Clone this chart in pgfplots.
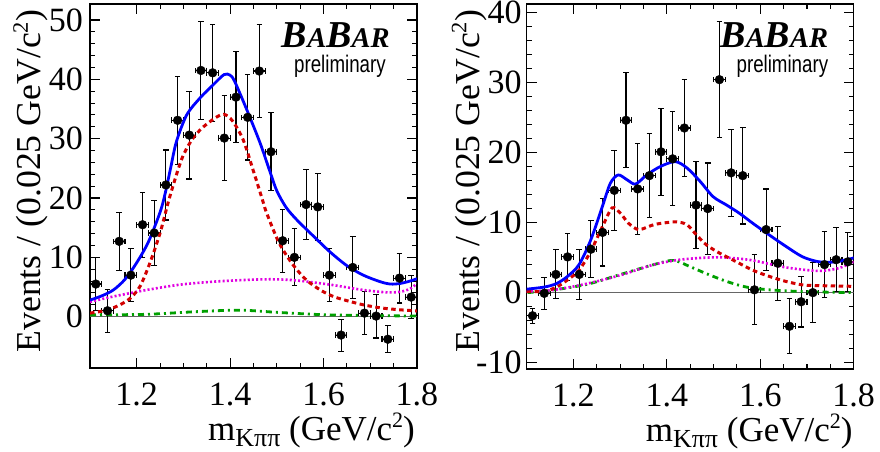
\documentclass[border=0pt]{standalone}
\usepackage{fontspec}
\setmainfont{Liberation Serif}
\newfontfamily\helv{Liberation Sans}
\usepackage{pgfplots}
\usepackage{pgfplotstable}
\pgfplotsset{compat=1.18}

\definecolor{cblue}{RGB}{0,0,255}
\definecolor{cred}{RGB}{210,0,0}
\definecolor{cmag}{RGB}{225,0,225}
\definecolor{cgreen}{RGB}{0,160,0}

\pgfplotstableread{
x y ey
1.1125 5.5 4.4
1.1375 1.0 3.6
1.1625 12.7 4.9
1.1875 7.0 4.5
1.2125 15.5 5.5
1.2375 14.1 5.5
1.2625 22.2 5.9
1.2875 33.1 7.4
1.3125 30.6 7.4
1.3375 41.5 8.3
1.3625 41.1 8.2
1.3875 30.1 7.2
1.4125 37.0 7.7
1.4375 33.6 7.2
1.4625 41.4 7.9
1.4875 27.8 6.6
1.5125 12.8 5.3
1.5375 10.0 4.8
1.5625 18.9 5.9
1.5875 18.5 5.7
1.6125 7.0 4.5
1.6375 -3.1 2.7
1.6625 8.3 5.2
1.6875 0.6 3.6
1.7125 0.1 3.7
1.7375 -3.8 2.3
1.7625 6.5 4.2
1.7875 3.3 3.6
}\leftdata

\pgfplotstableread{
x y ey
1.1125 -3.3 1.1
1.1375 -0.1 2.3
1.1625 2.6 3.5
1.1875 5.1 3.4
1.2125 2.6 3.6
1.2375 6.2 4.1
1.2625 8.6 4.8
1.2875 14.6 5.7
1.3125 24.6 6.8
1.3375 14.8 6.5
1.3625 16.7 6.0
1.3875 20.1 6.2
1.4125 19.1 6.7
1.4375 23.5 6.9
1.4625 12.5 6.2
1.4875 12.0 6.5
1.5125 30.4 8.3
1.5375 17.1 6.2
1.5625 16.7 6.9
1.5875 0.4 5.0
1.6125 9.0 5.8
1.6375 4.2 5.3
1.6625 -4.8 3.9
1.6875 -1.3 3.6
1.7125 0.0 4.3
1.7375 4.0 4.7
1.7625 4.7 4.6
1.7875 4.4 4.2
}\rightdata

\newcommand{\babar}{{\bfseries\itshape\fontsize{38}{38}\selectfont B\fontsize{28.5}{28.5}\selectfont A\fontsize{38}{38}\selectfont B\fontsize{28.5}{28.5}\selectfont AR}}
\newcommand{\prelim}{\scalebox{0.78}[1]{\helv\fontsize{24}{24}\selectfont preliminary}}
\newcommand{\mlabel}{m\raisebox{-6pt}{\fontsize{26}{26}\selectfont Kππ} (GeV/c\raisebox{13pt}{\fontsize{22}{22}\selectfont 2})}
\newcommand{\ylab}{\scalebox{1.02}[1]{Events / (0.025 GeV/c\raisebox{13pt}{\fontsize{22}{22}\selectfont 2})}}

\pgfplotsset{
  babarstyle/.style={
    scale only axis,
    width=327pt,
    xmin=1.1, xmax=1.8,
    xtick={1.2,1.4,1.6,1.8},
    minor x tick num=3,
    minor y tick num=4,
    tick align=inside,
    major tick length=10pt,
    minor tick length=5pt,
    axis line style={line width=1.5pt},
    every tick/.style={black, line width=1.1pt},
    /pgf/number format/assume math mode=true,
    tick label style={font=\fontsize{34}{36}\selectfont, inner sep=0pt},
    xticklabel style={anchor=base, yshift=-37pt, /pgf/number format/.cd, fixed, fixed zerofill, precision=1},
    every axis x label/.style={anchor=base east, inner sep=0pt, font=\fontsize{35}{38}\selectfont},
    every axis y label/.style={rotate=90, anchor=north east, inner sep=0pt, font=\fontsize{35}{38}\selectfont},
    clip=true,
  },
  datapts/.style={only marks, mark=*, black, mark size=4.4pt,
    mark options={fill=black, draw=black},
    error bars/.cd, y dir=both, y explicit, x dir=both, x fixed=0.0125,
    error bar style={line width=1.1pt, black},
    error mark options={rotate=90, mark size=2.8pt, line width=1.1pt, black}},
  zeroline/.style={color=black!60, line width=1.1pt},
  ctot/.style={cblue, line width=2.8pt, smooth, tension=0.5},
  csig/.style={cred, line width=3pt, dash pattern=on 4.5pt off 3.5pt, smooth, tension=0.5},
  cbkg/.style={cmag, line width=2.6pt, dash pattern=on 2pt off 2.2pt, smooth, tension=0.5},
  cpk/.style={cgreen, line width=2.8pt, dash pattern=on 6pt off 4pt on 2pt off 4pt, smooth, tension=0.5},
}

\begin{document}
\begin{tikzpicture}
\useasboundingbox (0,0) rectangle (880pt,451pt);

\begin{axis}[babarstyle,
  at={(90pt,83pt)}, anchor=south west,
  height=364pt,
  ymin=-8.65, ymax=52.7,
  ytick={0,10,20,30,40,50},
  yticklabel style={anchor=east, xshift=-7pt},
  xlabel={\mlabel},
  ylabel={\ylab},
  x label style={at={(axis description cs:0.994,-0.198)}},
  y label style={at={(axis description cs:-0.2355,0.984)}},
]
\addplot[zeroline] coordinates {(1.1,0) (1.8,0)};
\addplot+[datapts] table[x=x, y=y, y error=ey] {\leftdata};
\addplot[cpk] coordinates {(1.1,0.3) (1.221,0.4) (1.329,0.85) (1.421,1.1) (1.507,0.7) (1.614,0.3) (1.8,0.1)};
\addplot[cbkg] coordinates {(1.1,2.5) (1.15,3.4) (1.221,4.5) (1.293,5.4) (1.364,5.9) (1.435,6.2) (1.492,6.3) (1.543,6.1) (1.614,5.4) (1.685,4.5) (1.736,4.1) (1.764,4.2) (1.785,4.7) (1.8,5.6)};
\addplot[csig] coordinates {(1.100,0.6) (1.136,1.1) (1.164,2.0) (1.186,3.1) (1.207,5.1) (1.228,9.0) (1.250,14.1) (1.270,20.0) (1.296,26.5) (1.318,29.8) (1.340,31.8) (1.368,33.5) (1.387,34.1) (1.405,33.0) (1.428,29.8) (1.450,24.5) (1.468,20.0) (1.478,17.5) (1.505,12.4) (1.535,8.7) (1.563,6.2) (1.593,4.5) (1.621,3.4) (1.650,2.7) (1.685,2.0) (1.721,1.5) (1.757,1.2) (1.793,1.0) (1.800,0.95)};
\addplot[ctot] coordinates {(1.100,2.8) (1.125,3.5) (1.150,4.5) (1.175,6.3) (1.200,9.1) (1.225,12.6) (1.250,17.6) (1.261,20.8) (1.273,25.2) (1.285,29.5) (1.307,34.0) (1.336,36.9) (1.364,39.1) (1.387,40.8) (1.400,40.7) (1.410,39.6) (1.435,35.0) (1.464,29.3) (1.485,24.5) (1.500,21.2) (1.520,18.4) (1.543,16.3) (1.578,13.6) (1.614,10.9) (1.650,8.6) (1.685,7.0) (1.721,5.9) (1.743,5.5) (1.764,5.6) (1.785,6.0) (1.800,6.4)};
\node[anchor=north east, inner sep=0pt] at (axis description cs:0.917,0.950) {\babar};
\node[anchor=north east, inner sep=0pt] at (axis description cs:0.905,0.860) {\prelim};
\end{axis}

\begin{axis}[babarstyle,
  at={(526.7pt,82pt)}, anchor=south west,
  height=365pt,
  ymin=-10.9, ymax=41.2,
  ytick={-10,0,10,20,30,40},
  yticklabel style={anchor=east, xshift=-5pt},
  xlabel={\mlabel},
  ylabel={\ylab},
  x label style={at={(axis description cs:0.997,-0.1975)}},
  y label style={at={(axis description cs:-0.2296,0.984)}},
]
\addplot[zeroline] coordinates {(1.1,0) (1.8,0)};
\addplot+[datapts] table[x=x, y=y, y error=ey] {\rightdata};
\addplot[cpk] coordinates {(1.102,0) (1.159,0.4) (1.23,1.2) (1.301,2.6) (1.372,4.0) (1.414,4.6) (1.45,3.7) (1.485,2.7) (1.528,1.6) (1.57,0.8) (1.62,0.4) (1.691,0.15) (1.8,0)};
\addplot[cbkg] coordinates {(1.1,0.15) (1.159,0.4) (1.23,1.3) (1.301,2.5) (1.372,4.0) (1.428,4.7) (1.485,5.0) (1.528,5.0) (1.584,4.6) (1.655,3.6) (1.726,3.1) (1.768,3.5) (1.797,4.3) (1.8,4.4)};
\addplot[csig] coordinates {(1.1,0.15) (1.138,0.2) (1.164,0.8) (1.187,1.8) (1.212,3.2) (1.237,5.9) (1.262,9.4) (1.283,12.1) (1.301,11.3) (1.318,9.9) (1.340,9.0) (1.372,9.7) (1.400,10.0) (1.421,10.1) (1.443,9.7) (1.464,8.2) (1.485,6.8) (1.514,5.6) (1.549,4.4) (1.584,3.2) (1.620,2.3) (1.655,1.6) (1.691,1.1) (1.726,1.0) (1.8,0.9)};
\addplot[ctot] coordinates {(1.1,0.5) (1.138,0.8) (1.164,1.3) (1.187,2.3) (1.212,4.0) (1.237,7.5) (1.262,12.3) (1.279,15.6) (1.296,16.8) (1.315,16.1) (1.333,15.5) (1.357,16.8) (1.386,18.0) (1.418,18.7) (1.443,17.8) (1.471,15.9) (1.499,13.7) (1.528,12.5) (1.556,11.3) (1.584,9.9) (1.620,8.2) (1.655,6.6) (1.691,5.1) (1.726,4.4) (1.762,4.4) (1.797,4.9) (1.8,5.0)};
\node[anchor=north east, inner sep=0pt] at (axis description cs:0.9225,0.950) {\babar};
\node[anchor=north east, inner sep=0pt] at (axis description cs:0.9225,0.860) {\prelim};
\end{axis}
\end{tikzpicture}
\end{document}
